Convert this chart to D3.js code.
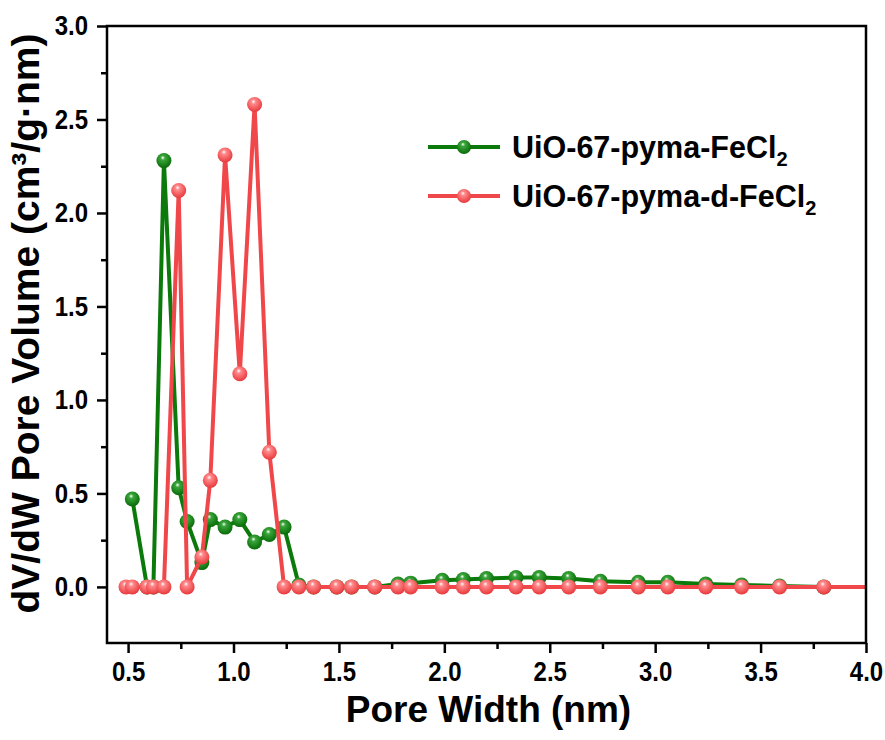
<!DOCTYPE html>
<html>
<head>
<meta charset="utf-8">
<script src="https://cdn.jsdelivr.net/npm/d3@7"></script>
<style>
  html, body { margin: 0; padding: 0; background: #fff; }
  svg { display: block; font-family: "Liberation Sans", Arial, sans-serif; }
</style>
</head>
<body>
<svg id="chart" width="885" height="740"></svg>
<script>
// ---- data ----
const widthsRed = [0.49, 0.52, 0.59, 0.62, 0.67, 0.74, 0.78, 0.85, 0.89, 0.96, 1.03, 1.10, 1.17, 1.24, 1.31, 1.38, 1.49, 1.56, 1.67, 1.78, 1.84, 1.99, 2.09, 2.20, 2.34, 2.45, 2.59, 2.74, 2.92, 3.06, 3.24, 3.41, 3.59, 3.80, 4.06];
const valuesRed = [0, 0, 0, 0, 0, 2.12, 0, 0.16, 0.57, 2.31, 1.14, 2.58, 0.72, 0, 0, 0, 0, 0, 0, 0, 0, 0, 0, 0, 0, 0, 0, 0, 0, 0, 0, 0, 0, 0, 0];
const widthsGreen = [0.52, 0.59, 0.62, 0.67, 0.74, 0.78, 0.85, 0.89, 0.96, 1.03, 1.10, 1.17, 1.24, 1.31, 1.38, 1.49, 1.56, 1.67, 1.78, 1.84, 1.99, 2.09, 2.20, 2.34, 2.45, 2.59, 2.74, 2.92, 3.06, 3.24, 3.41, 3.59, 3.80, 4.06];
const valuesGreen = [0.47, 0, 0, 2.28, 0.53, 0.35, 0.13, 0.36, 0.32, 0.36, 0.24, 0.28, 0.32, 0.01, 0, 0, 0, 0, 0.015, 0.02, 0.035, 0.04, 0.045, 0.05, 0.05, 0.045, 0.03, 0.025, 0.025, 0.015, 0.01, 0.005, 0, 0];
const seriesNames = ["UiO-67-pyma-FeCl", "UiO-67-pyma-d-FeCl"];
const xMajorTicks = [0.5, 1.0, 1.5, 2.0, 2.5, 3.0, 3.5, 4.0];
const xMinorTicks = [0.75, 1.25, 1.75, 2.25, 2.75, 3.25, 3.75];
const yMajorTicks = [0.0, 0.5, 1.0, 1.5, 2.0, 2.5, 3.0];
const yMinorTicks = [0.25, 0.75, 1.25, 1.75, 2.25, 2.75];

// ---- layout ----
const L = 107, R = 866, T = 26, B = 643;
const svg = d3.select("#chart");
const x = d3.scaleLinear().domain([0.4, 4.0]).range([L, R]);
const y = d3.scaleLinear().domain([-0.3, 3.0]).range([B, T]);

const colors = { green: "#0b7a0b", red: "#f0474a" };

const defs = svg.append("defs");
defs.append("clipPath").attr("id", "plotclip")
  .append("rect").attr("x", L).attr("y", T).attr("width", R - L).attr("height", B - T);

function makeGrad(id, base, mid) {
  const g = defs.append("radialGradient").attr("id", id)
    .attr("cx", "45%").attr("cy", "38%").attr("r", "62%")
    .attr("fx", "42%").attr("fy", "30%");
  g.append("stop").attr("offset", "0%").attr("stop-color", "#ffffff");
  g.append("stop").attr("offset", "24%").attr("stop-color", mid);
  g.append("stop").attr("offset", "100%").attr("stop-color", base);
}
makeGrad("gGreen", "#086a08", "#3aa63a");
makeGrad("gRed", "#e8383b", "#ff8a8c");

// ---- series ----
const plot = svg.append("g").attr("clip-path", "url(#plotclip)");
const line = d3.line().x(d => x(d[0])).y(d => y(d[1]));

function drawSeries(xs, ys, color, grad) {
  const pts = xs.map((v, i) => [v, ys[i]]);
  plot.append("path").datum(pts)
    .attr("fill", "none").attr("stroke", color)
    .attr("stroke-width", 4).attr("stroke-linejoin", "round")
    .attr("d", line);
  plot.selectAll(null).data(pts).enter().append("circle")
    .attr("cx", d => x(d[0])).attr("cy", d => y(d[1]))
    .attr("r", 7.5).attr("fill", `url(#${grad})`);
}
drawSeries(widthsGreen, valuesGreen, colors.green, "gGreen");
drawSeries(widthsRed, valuesRed, colors.red, "gRed");

// ---- frame ----
svg.append("rect").attr("x", L).attr("y", T).attr("width", R - L).attr("height", B - T)
  .attr("fill", "none").attr("stroke", "#000").attr("stroke-width", 2.5);

// ---- axes ----
const fmt = d3.format(".1f");
const stretch = 1.15;
const xAxis = svg.append("g").attr("transform", `translate(0,${B})`)
  .call(d3.axisBottom(x).tickValues(xMajorTicks).tickSize(10).tickPadding(8).tickFormat(fmt));
const xMinor = svg.append("g").attr("transform", `translate(0,${B})`)
  .call(d3.axisBottom(x).tickValues(xMinorTicks).tickSize(6).tickFormat(""));
const yAxis = svg.append("g").attr("transform", `translate(${L},0)`)
  .call(d3.axisLeft(y).tickValues(yMajorTicks).tickSize(10).tickPadding(9).tickFormat(fmt));
const yMinor = svg.append("g").attr("transform", `translate(${L},0)`)
  .call(d3.axisLeft(y).tickValues(yMinorTicks).tickSize(6).tickFormat(""));

[xAxis, xMinor, yAxis, yMinor].forEach(g => {
  g.select(".domain").remove();
  g.selectAll(".tick line").attr("stroke", "#000").attr("stroke-width", 2.5);
  g.selectAll(".tick text").attr("fill", "#000")
    .style("font-size", "24px").style("font-weight", "bold")
    .style("font-family", "'Liberation Sans', Arial, sans-serif")
    .attr("transform", `scale(1,${stretch})`);
});
xAxis.selectAll(".tick text").attr("y", 18 / stretch);

// ---- axis titles ----
svg.append("text")
  .attr("x", (L + R) / 2 + 2).attr("y", 722)
  .attr("text-anchor", "middle")
  .style("font-size", "37px").style("font-weight", "bold")
  .text("Pore Width (nm)");

svg.append("text")
  .attr("transform", `translate(39,${(T + B) / 2 - 11}) rotate(-90)`)
  .attr("text-anchor", "middle")
  .style("font-size", "39px").style("font-weight", "bold")
  .text("dV/dW Pore Volume (cm³/g·nm)");

// ---- legend ----
const legendItems = [
  { name: seriesNames[0], color: colors.green, grad: "gGreen" },
  { name: seriesNames[1], color: colors.red, grad: "gRed" }
];
const lg = svg.append("g");
legendItems.forEach((it, i) => {
  const ly = 147 + i * 49;
  lg.append("line").attr("x1", 428).attr("x2", 500).attr("y1", ly).attr("y2", ly)
    .attr("stroke", it.color).attr("stroke-width", 4);
  lg.append("circle").attr("cx", 464).attr("cy", ly).attr("r", 7).attr("fill", `url(#${it.grad})`);
  const t = lg.append("text").attr("x", 512).attr("y", ly + 11)
    .style("font-size", "30.5px").style("font-weight", "bold");
  t.append("tspan").text(it.name);
  t.append("tspan").attr("dy", 8).style("font-size", "20px").text("2");
});
</script>
</body>
</html>
